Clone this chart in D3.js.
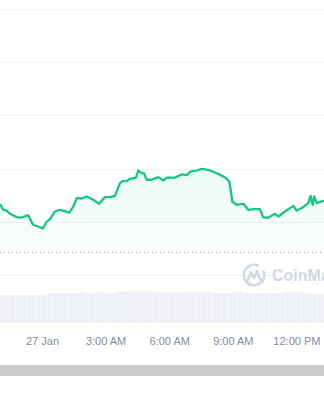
<!DOCTYPE html>
<html>
<head>
<meta charset="utf-8">
<script src="https://cdn.jsdelivr.net/npm/d3@7"></script>
<style>
  body { margin: 0; background: #fff; }
  svg { display: block; font-family: "Liberation Sans", Arial, sans-serif; }
</style>
</head>
<body>
<script>
// hours from 27 Jan 00:00, price
const hours = [-1.98, -1.83, -1.67, -1.51, -1.19, -1.04, -0.90, -0.66, -0.42, -0.19,
  0.05, 0.22, 0.38, 0.61, 0.85, 1.08, 1.29, 1.48, 1.64, 1.87,
  2.11, 2.42, 2.69, 2.97, 3.21, 3.44, 3.68, 3.81, 4.00, 4.15,
  4.43, 4.54, 4.70, 4.81, 4.94, 5.17, 5.49, 5.72, 5.88, 6.27,
  6.59, 6.83, 7.01, 7.30, 7.53, 7.84, 8.08, 8.40, 8.68, 8.83,
  8.90, 8.98, 9.18, 9.50, 9.73, 9.97, 10.28, 10.43, 10.67, 10.99,
  11.15, 11.46, 11.70, 11.85, 12.01, 12.25, 12.56, 12.67, 12.77, 12.84,
  12.96, 13.30];
const prices = [101.66, 101.13, 101.06, 100.75, 100.44, 100.40, 100.44, 100.63, 99.72, 99.56,
  99.37, 100.00, 100.25, 100.97, 101.13, 101.01, 100.87, 101.44, 102.23, 102.19,
  102.38, 102.07, 101.69, 102.32, 102.32, 102.44, 103.64, 103.83, 103.83, 104.04,
  104.14, 104.82, 104.58, 104.58, 103.95, 103.95, 104.20, 103.88, 104.14, 104.16,
  104.45, 104.39, 104.73, 104.82, 104.98, 104.89, 104.70, 104.42, 104.11, 103.79,
  103.01, 101.91, 101.60, 101.69, 101.13, 101.19, 101.19, 100.44, 100.38, 100.75,
  100.50, 100.97, 101.29, 101.50, 101.06, 101.29, 101.76, 102.44, 101.57, 102.38,
  101.76, 102.00];
const openPrice = 97.18;
const priceTicks = [95, 100, 105, 110, 115, 120];

// volume per 15 min, starting 26 Jan 22:00
const volumes = [28, 28, 28, 28, 28, 28, 28, 28, 28, 30,
  30, 30, 30, 30, 30, 31, 30, 30, 31, 31,
  30, 30, 31, 32, 32, 32, 32, 32, 32, 30.5,
  30.5, 30.5, 30.5, 30.5, 30.5, 30.5, 31, 31, 31, 31,
  30, 30, 30, 30, 31, 31, 30, 30, 30, 30,
  30, 30, 30, 30, 31, 31, 31, 30, 29, 29,
  29, 29];
const tickHours = [0, 3, 6, 9, 12];

const W = 324, H = 400;
const day = new Date(2025, 0, 27);
const at = h => new Date(+day + h * 3600e3);

const x = d3.scaleTime()
  .domain([at(-1.981), at(13.302)])
  .range([0, W]);
const y = d3.scaleLinear().domain([95, 120]).range([275, 9]);
const yv = d3.scaleLinear().domain([0, 40]).range([323, 283]);

const svg = d3.select("body").append("svg").attr("width", W).attr("height", H);

const defs = svg.append("defs");
const grad = defs.append("linearGradient").attr("id", "fillg")
  .attr("x1", 0).attr("x2", 0).attr("y1", 0).attr("y2", 1);
grad.append("stop").attr("offset", "0%").attr("stop-color", "#16c784").attr("stop-opacity", 0.09);
grad.append("stop").attr("offset", "100%").attr("stop-color", "#16c784").attr("stop-opacity", 0.02);

// grid
svg.append("g").selectAll("line").data(priceTicks).join("line")
  .attr("x1", 0).attr("x2", W)
  .attr("y1", d => Math.round(y(d)) + 0.5).attr("y2", d => Math.round(y(d)) + 0.5)
  .attr("stroke", "#eff2f5").attr("stroke-width", 1);

// volume bars
svg.append("g").selectAll("rect").data(volumes).join("rect")
  .attr("x", (d, i) => x(at(-2 + i * 0.25)))
  .attr("width", (d, i) => x(at(-2 + (i + 1) * 0.25)) - x(at(-2 + i * 0.25)) - 0.3)
  .attr("y", d => yv(d))
  .attr("height", d => yv(0) - yv(d))
  .attr("fill", "#eef1f5");

const data = hours.map((h, i) => ({ t: at(h), p: prices[i] }));

// area
svg.append("path").datum(data)
  .attr("d", d3.area().x(d => x(d.t)).y0(y(openPrice)).y1(d => y(d.p)))
  .attr("fill", "url(#fillg)");

// open price dotted line
svg.append("line")
  .attr("x1", 0).attr("x2", W)
  .attr("y1", Math.round(y(openPrice)) + 0.5).attr("y2", Math.round(y(openPrice)) + 0.5)
  .attr("stroke", "#a6adba").attr("stroke-width", 1).attr("stroke-dasharray", "1,3");

// price line
svg.append("path").datum(data)
  .attr("d", d3.line().x(d => x(d.t)).y(d => y(d.p)))
  .attr("fill", "none").attr("stroke", "#16c784").attr("stroke-width", 2.3)
  .attr("stroke-linejoin", "round");

// watermark
const wm = svg.append("g").attr("transform", "translate(254,275)");
wm.append("path")
  .attr("d", d3.arc().innerRadius(9).outerRadius(11.5).startAngle(0.35 * Math.PI).endAngle(2.15 * Math.PI)())
  .attr("fill", "#d3d9e3");
wm.append("path")
  .attr("d", "M-6,5 L-3,-3 L0,3 L3,-4 L6,4 L9,6")
  .attr("fill", "none").attr("stroke", "#d3d9e3").attr("stroke-width", 2.4)
  .attr("stroke-linejoin", "round").attr("stroke-linecap", "round");
svg.append("text").attr("x", 272).attr("y", 281)
  .attr("font-size", 16).attr("font-weight", 700).attr("fill", "#d3d9e3")
  .text("CoinMarketCap");

// x axis
const xAxis = d3.axisBottom(x)
  .tickValues(tickHours.map(at))
  .tickSize(0).tickPadding(0)
  .tickFormat(d => d.getHours() === 0 ? d3.timeFormat("%-d %b")(d) : d3.timeFormat("%-I:%M %p")(d));
const gx = svg.append("g").attr("transform", "translate(0,337)").call(xAxis);
gx.select(".domain").remove();
gx.selectAll("text").attr("font-size", 11).attr("fill", "#858ca2")
  .attr("font-family", "Liberation Sans, Arial, sans-serif");

// scrollbar strip
svg.append("rect").attr("x", 0).attr("y", 365).attr("width", W).attr("height", 11).attr("fill", "#cbcbcb");
</script>
</body>
</html>
